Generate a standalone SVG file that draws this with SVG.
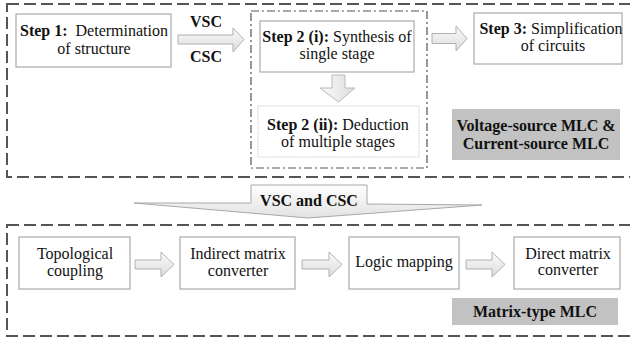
<svg xmlns="http://www.w3.org/2000/svg" width="630" height="340" viewBox="0 0 630 340">
  <defs>
    <linearGradient id="arrowFill" x1="0" y1="0" x2="0" y2="1">
      <stop offset="0" stop-color="#fbfbfb"/>
      <stop offset="1" stop-color="#dcdcdc"/>
    </linearGradient>
    <linearGradient id="arrowFillV" x1="0" y1="0" x2="1" y2="0">
      <stop offset="0" stop-color="#fbfbfb"/>
      <stop offset="1" stop-color="#dcdcdc"/>
    </linearGradient>
    <linearGradient id="calloutFill" x1="0" y1="0" x2="0" y2="1">
      <stop offset="0" stop-color="#ffffff"/>
      <stop offset="1" stop-color="#e2e2e2"/>
    </linearGradient>
    <style>
      .frame { fill: none; stroke: #555; stroke-width: 2; stroke-dasharray: 12 5; }
      .group { fill: none; stroke: #555; stroke-width: 1.2; stroke-dasharray: 8 3 2 3; }
      .box { fill: #fff; stroke: #9a9a9a; stroke-width: 1; }
      .dotbox { fill: #fff; stroke: #cccccc; stroke-width: 1; stroke-dasharray: 1.5 1; }
      .tag { fill: #c2c2c2; stroke: none; }
      .arrow { fill: url(#arrowFill); stroke: #b0b0b0; stroke-width: 1; }
      .arrowv { fill: url(#arrowFillV); stroke: #b8b8b8; stroke-width: 1; }
      .callout { fill: url(#calloutFill); stroke: #a8a8a8; stroke-width: 1; }
      text { font-size: 16px; fill: #111; text-anchor: middle; }
      .b { font-weight: bold; }
    </style>
  </defs>

  <rect width="630" height="340" fill="#fff"/>

  <!-- outer frames -->
  <rect class="frame" x="7" y="4" width="630" height="173"/>
  <rect class="frame" x="7" y="225" width="630" height="111"/>
  <!-- step 2 grouping -->
  <rect class="group" x="251" y="11" width="176" height="157"/>

  <!-- connectors -->
  <g id="connectors">
    <path class="arrow" d="M178,35 H233 V28 L244,39.5 L233,52 V44 H178 Z"/>
    <path class="arrow" d="M432,33.5 H456 V26 L467,38.5 L456,51 V43.5 H432 Z"/>
    <path class="arrowv" d="M332,75 H345 V88 H355 L338.5,102 L320,88 H332 Z"/>
    <path class="callout" d="M251,185 H367 V204 L482,205 L308,218 L134,203 L251,203 Z"/>
    <path class="arrow" d="M135,260 H161 V252 L174,264.5 L161,277 V269 H135 Z"/>
    <path class="arrow" d="M302,260 H329 V252 L342,264.5 L329,277 V269 H302 Z"/>
    <path class="arrow" d="M466,260 H492 V252 L505,264.5 L492,277 V269 H466 Z"/>
  </g>

  <g font-family="'Liberation Serif', 'DejaVu Serif', serif">
  <text class="b" x="206" y="27">VSC</text>
  <text class="b" x="206" y="62">CSC</text>
  <text class="b" x="309" y="206">VSC and CSC</text>

  <g id="step1">
    <rect class="box" x="16" y="14" width="155" height="53"/>
    <text x="94" y="35.5" xml:space="preserve"><tspan class="b">Step 1:</tspan>  Determination</text>
    <text x="94" y="53.5">of structure</text>
  </g>

  <g id="step2i">
    <rect class="box" x="260" y="21" width="154" height="51"/>
    <text x="337" y="42"><tspan class="b">Step 2 (i):</tspan> Synthesis of</text>
    <text x="337" y="59">single stage</text>
  </g>

  <g id="step2ii">
    <rect class="dotbox" x="258" y="106" width="161" height="51"/>
    <text x="338" y="130"><tspan class="b">Step 2 (ii):</tspan> Deduction</text>
    <text x="338" y="147">of multiple stages</text>
  </g>

  <g id="step3">
    <rect class="box" x="474" y="13" width="148" height="51"/>
    <text x="551" y="33.5"><tspan class="b">Step 3:</tspan> Simplification</text>
    <text x="553" y="51">of circuits</text>
  </g>

  <g id="vcs-mlc">
    <rect class="tag" x="452" y="109" width="168" height="51"/>
    <text class="b" x="536" y="131">Voltage-source MLC &amp;</text>
    <text class="b" x="536" y="149">Current-source MLC</text>
  </g>

  <g id="topological">
    <rect class="box" x="19" y="237" width="111" height="52"/>
    <text x="75" y="259">Topological</text>
    <text x="75" y="276">coupling</text>
  </g>

  <g id="indirect">
    <rect class="box" x="180" y="237" width="115" height="52"/>
    <text x="238" y="259">Indirect matrix</text>
    <text x="238" y="276">converter</text>
  </g>

  <g id="logic">
    <rect class="box" x="349" y="237" width="110" height="52"/>
    <text x="404" y="267">Logic mapping</text>
  </g>

  <g id="direct">
    <rect class="box" x="514" y="237" width="106" height="52"/>
    <text x="568" y="259">Direct matrix</text>
    <text x="568" y="275">converter</text>
  </g>

  <g id="matrix-mlc">
    <rect class="tag" x="452" y="298" width="166" height="27"/>
    <text class="b" x="535" y="317">Matrix-type MLC</text>
  </g>
  </g>
</svg>
